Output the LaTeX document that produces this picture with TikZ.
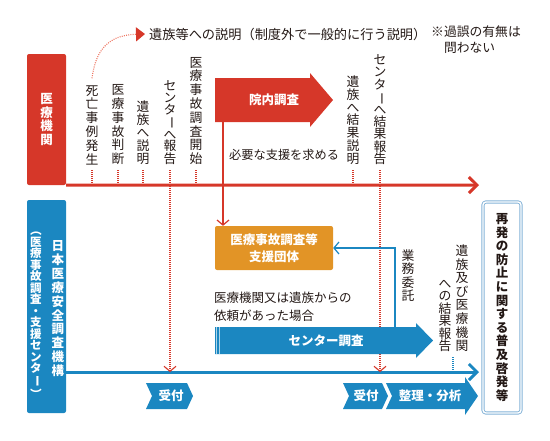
\documentclass[tikz,border=0pt]{standalone}
\usepackage{fontspec}
\setmainfont{Noto Sans CJK JP}
\usetikzlibrary{arrows.meta,positioning,calc}
\definecolor{kred}{RGB}{214,55,41}
\definecolor{kredlt}{RGB}{238,120,100}
\definecolor{korange}{RGB}{226,148,38}
\definecolor{kblue}{RGB}{27,135,193}
\definecolor{kbluelt}{RGB}{130,178,215}
\definecolor{ktext}{RGB}{35,24,21}
\newcommand{\vbar}{\rotatebox[origin=c]{-90}{ー}}
\newcommand{\vlp}{\rotatebox[origin=c]{-90}{（}}
\newcommand{\vrp}{\rotatebox[origin=c]{-90}{）}}
\tikzset{
  tate/.style={align=center, inner sep=0pt, anchor=south, text=ktext,
               font=\fontsize{12.8}{#1}\selectfont},
  tate/.default=13.6,
  yoko/.style={align=left, inner sep=0pt, text=ktext, font=\fontsize{12.5}{18}\selectfont},
  orgbox/.style={rectangle, rounded corners=2pt, text=white, align=center, inner sep=0pt,
                 font=\bfseries\fontsize{12.5}{13.4}\selectfont},
  wlabel/.style={text=white, inner sep=0pt, font=\bfseries\fontsize{12.5}{15}\selectfont},
  mainred/.style={draw=kred, line width=3pt, -{Straight Barb[length=8pt, width=16pt]}},
  mainblue/.style={draw=kblue, line width=3pt, -{Straight Barb[length=8pt, width=16pt]}},
  dotred/.style={draw=kred, line width=1.1pt, dash pattern=on 1pt off 1pt},
  dotblue/.style={draw=kblue, line width=1.1pt, dash pattern=on 1pt off 1pt},
  thinred/.style={draw=kred, line width=1.2pt, -{Straight Barb[length=5pt, width=12pt]}},
  thinblue/.style={draw=kblue, line width=1.2pt, -{Straight Barb[length=5pt, width=12pt]}},
  downtip/.style={-{Straight Barb[length=5pt, width=12pt, line width=1.1pt]}},
}
\begin{document}
\begin{tikzpicture}[x=1pt, y=-1pt]
  \useasboundingbox (0,0) rectangle (550,440);
  % actors
  \node[orgbox, fill=kred, minimum width=39pt, minimum height=131pt] (iryo) at (46.5,119.5) {医\\療\\機\\関};
  \node[orgbox, fill=kblue, minimum width=39pt, minimum height=213pt] (kikou) at (46.5,306.5) {};
  \node[tate, text=white, font=\bfseries\fontsize{12.5}{13.9}\selectfont] (kikouA) at (58,377)
    {日\\本\\医\\療\\安\\全\\調\\査\\機\\構};
  \node[tate, text=white, font=\bfseries\fontsize{11.5}{11.5}\selectfont] (kikouB) at (36,400)
    {\vlp\\医\\療\\事\\故\\調\\査\\・\\支\\援\\セ\\ン\\タ\\\vbar\\\vrp};
  \node[draw=kbluelt, double=white, double distance=1.4pt, line width=0.9pt, rounded corners=3pt,
        minimum width=38pt, minimum height=211pt, inner sep=0pt, align=center, text=ktext,
        font=\bfseries\fontsize{12.5}{13.6}\selectfont] (fukyu) at (502,307.5)
    {再\\発\\の\\防\\止\\に\\関\\す\\る\\普\\及\\啓\\発\\等};

  % time lines
  \coordinate (redE) at (479,185);
  \coordinate (blueE) at (479,372);
  \draw[mainred] (iryo.south east) -- (redE);
  \draw[mainblue] (kikou.east |- blueE) -- (blueE);

  % events of the hospital
  \node[tate=13.8] (t1) at (92,165) {死\\亡\\事\\例\\発\\生};
  \node[tate=13.8] (t2) at (118,165) {医\\療\\事\\故\\判\\断};
  \node[tate=13] (t3) at (143,165) {遺\\族\\へ\\説\\明};
  \node[tate=11.8] (t4) at (170,165) {セ\\ン\\タ\\\vbar\\へ\\報\\告};
  \node[tate=13.8] (t5) at (196,165) {医\\療\\事\\故\\調\\査\\開\\始};
  \node[tate=12.9] (t6) at (353,165) {遺\\族\\へ\\結\\果\\説\\明};
  \node[tate=12.4] (t7) at (380,165) {セ\\ン\\タ\\\vbar\\へ\\結\\果\\報\\告};
  \foreach \n in {t1,t2,t3,t5,t6}
    \draw[dotred] ([yshift=-5pt]\n.south) -- (\n.south |- redE);
  \foreach \n in {t4,t7}
    \draw[dotred, downtip] ([yshift=-5pt]\n.south) -- (\n.south |- blueE);

  % explanation outside the system
  \node[yoko, anchor=west, font=\fontsize{13.2}{15}\selectfont] (setsu) at (149,34)
    {遺族等への説明（制度外で一般的に行う説明）};
  \node[yoko, anchor=north west, font=\fontsize{12.8}{16}\selectfont] (kago) at (431,26)
    {※過誤の有無は\\　問わない};
  \draw[draw=kredlt, line width=1.1pt, dash pattern=on 1pt off 1.2pt,
        -{Triangle[length=9pt, width=14pt, color=kred]}]
    ([yshift=7pt]t1.north) .. controls (96,46) and (112,35) .. ([xshift=-4pt]setsu.west);

  % in-house investigation
  \fill[kred] (215,78) -- (310,78) -- (310,73) -- (333,100) -- (310,127) -- (310,122) -- (215,122) -- cycle;
  \node[wlabel] (innai) at (274,100) {院内調査};
  \coordinate (innaiB) at (223,122);
  \node[yoko, anchor=west, font=\fontsize{12.2}{15}\selectfont] (hitsuyo) at (229,155) {必要な支援を求める};
  \node[orgbox, fill=korange, minimum width=118pt, minimum height=44pt,
        font=\bfseries\fontsize{12.5}{17}\selectfont] (shien) at (274,248) {医療事故調査等\\支援団体};
  \draw[thinred] (innaiB) -- (innaiB |- shien.north);

  % center investigation
  \node[yoko, anchor=north west] (irai) at (214,292) {医療機関又は遺族からの\\依頼があった場合};
  \fill[kblue] (215,327) -- (416,327) -- (416,323) -- (433,340.5) -- (416,358) -- (416,354) -- (215,354) -- cycle;
  \draw[white!65!kblue, line width=0.6pt] (216.6,327) -- (216.6,354) (219.4,327) -- (219.4,354);
  \node[wlabel] (chosa) at (326,340.5) {センター調査};
  \coordinate (itakuS) at (395,327);
  \draw[thinblue] (itakuS) |- (shien.east);
  \node[tate] (itaku) at (408,302) {業\\務\\委\\託};
  \node[tate=13.6] (hokokuA) at (462,352) {遺\\族\\及\\び\\医\\療\\機\\関};
  \node[tate=12.5] (hokokuB) at (445,352) {へ\\の\\結\\果\\報\\告};
  \coordinate (hokokuM) at (453,352);
  \draw[dotblue] ([yshift=-5pt]hokokuM) -- (hokokuM |- blueE);

  % steps of the center
  \fill[kblue] (146,383) -- (187,383) -- (193,396) -- (187,409) -- (146,409) -- (152,396) -- cycle;
  \node[wlabel] (uke1) at (171,396) {受付};
  \fill[kblue] (343,383) -- (382,383) -- (388,396) -- (382,409) -- (343,409) -- (349,396) -- cycle;
  \node[wlabel] (uke2) at (366,396) {受付};
  \fill[kblue] (386,383) -- (465,383) -- (465,377) -- (478,396) -- (465,415) -- (465,409) -- (386,409) -- (392,396) -- cycle;
  \node[wlabel] (bunseki) at (430,396) {整理・分析};
\end{tikzpicture}
\end{document}
